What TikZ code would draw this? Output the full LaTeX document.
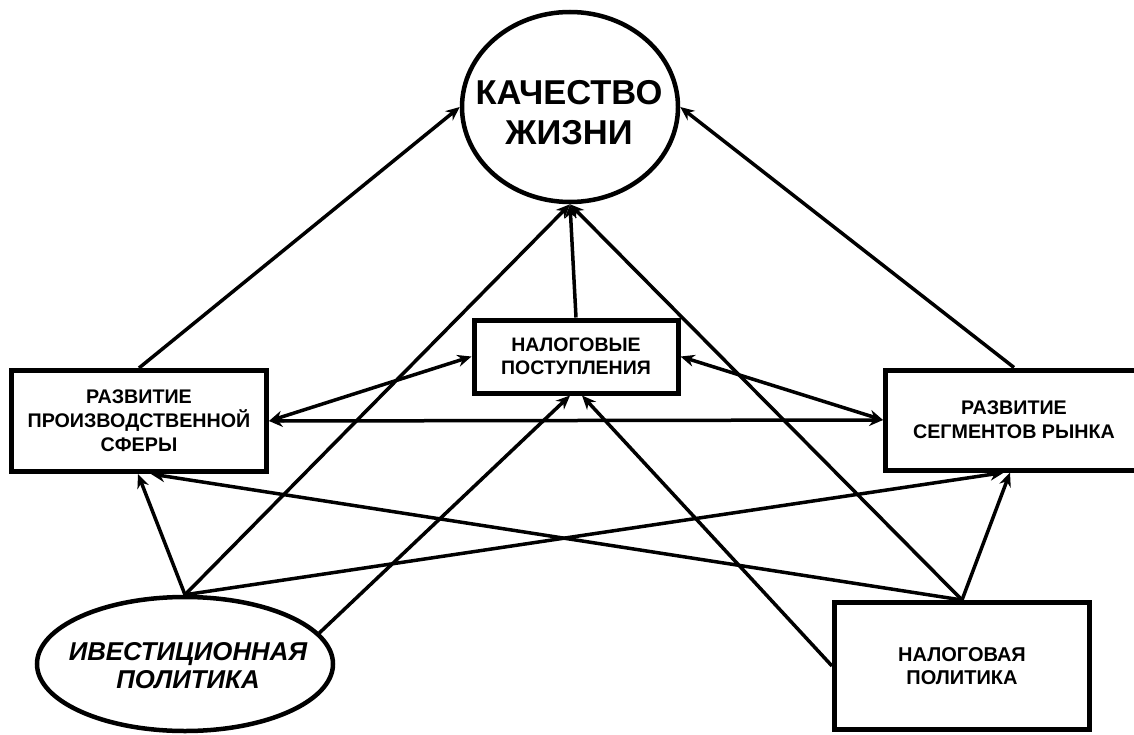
\documentclass[tikz,border=0pt]{standalone}
\usepackage{fontspec}
\setmainfont{Liberation Sans}
\usetikzlibrary{arrows.meta,shapes.geometric}
\begin{document}
\begin{tikzpicture}[x=1pt,y=-1pt,
  boxnode/.style={draw,line width=5pt,rectangle,inner sep=0pt,align=center,font=\bfseries},
  ellnode/.style={draw,line width=4.5pt,ellipse,inner sep=0pt},
  txt/.style={align=center,inner sep=0pt},
  conn/.style={line width=3.5pt,-{Stealth[length=14pt,width=12pt]}},
  biconn/.style={line width=3.5pt,{Stealth[length=14pt,width=12pt]}-{Stealth[length=14pt,width=12pt]}}]
\useasboundingbox (0,0) rectangle (1134,735);
% nodes
\node[ellnode,minimum width=216pt,minimum height=190pt] (Q) at (570,107) {};
\node[txt,font=\fontsize{34.5}{40}\selectfont\bfseries] (Qt) at (569,113) {КАЧЕСТВО\\ЖИЗНИ};
\node[boxnode,minimum width=204pt,minimum height=73pt,font=\fontsize{19.5}{23}\selectfont\bfseries] (P) at (576,356.5) {НАЛОГОВЫЕ\\ПОСТУПЛЕНИЯ};
\node[boxnode,minimum width=255pt,minimum height=101pt,font=\fontsize{19.7}{24}\selectfont\bfseries] (L) at (139,421) {РАЗВИТИЕ\\ПРОИЗВОДСТВЕННОЙ\\СФЕРЫ};
\node[boxnode,minimum width=257pt,minimum height=100pt,font=\fontsize{19.7}{24}\selectfont\bfseries] (R) at (1014,420) {РАЗВИТИЕ\\СЕГМЕНТОВ РЫНКА};
\node[boxnode,minimum width=255pt,minimum height=127pt,font=\fontsize{20}{23}\selectfont\bfseries] (T) at (962,666) {НАЛОГОВАЯ\\ПОЛИТИКА};
\node[ellnode,minimum width=296pt,minimum height=134pt] (I) at (185,664) {};
\node[txt,font=\fontsize{25.8}{28}\selectfont\bfseries\itshape] (It) at (188,666) {ИВЕСТИЦИОННАЯ\\ПОЛИТИКА};
% connectors
\draw[conn] (L.north) -- (Q.west);
\draw[conn] (R.north) -- (Q.east);
\draw[conn] (P.north) -- (Q.south);
\draw[conn] (I.north) -- (Q.south);
\draw[conn] (T.north) -- (Q.south);
\draw[biconn] (L.east) -- (P.west);
\draw[biconn] (R.west) -- (P.east);
\draw[biconn] (L.east) -- (R.west);
\draw[conn] (I.north) -- ([xshift=-1pt]L.south);
\draw[conn] (T.north) -- ([xshift=12pt]L.south);
\draw[conn] (I.north) -- ([xshift=-10pt]R.south);
\draw[conn] (T.north) -- ([xshift=-4pt]R.south);
\draw[conn] (I.13) -- ([xshift=-6pt]P.south);
\draw[conn] (T.west) -- ([xshift=6pt]P.south);
\end{tikzpicture}
\end{document}
